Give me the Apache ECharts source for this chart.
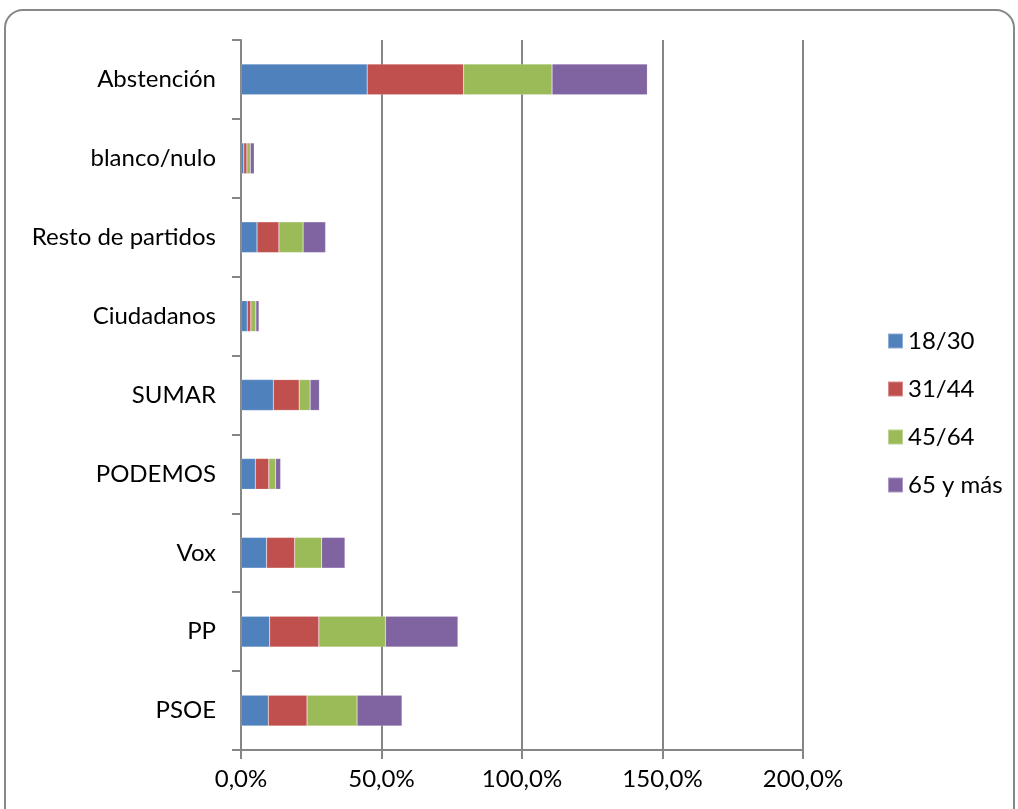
<!DOCTYPE html>
<html>
<head>
<meta charset="utf-8">
<script src="https://cdn.jsdelivr.net/npm/echarts@6/dist/echarts.min.js"></script>
<style>html,body{margin:0;padding:0;background:#fff}#c{width:1018px;height:809px}</style>
</head>
<body>
<div id="c"></div>
<script>
const categories = ['PSOE', 'PP', 'Vox', 'PODEMOS', 'SUMAR', 'Ciudadanos', 'Resto de partidos', 'blanco/nulo', 'Abstención'];
const seriesNames = ['18/30', '31/44', '45/64', '65 y más'];
const s1830 = [9.7, 10.2, 9.1, 5.1, 11.5, 2.2, 5.7, 1.0, 44.9];
const s3144 = [13.8, 17.5, 10.0, 4.8, 9.2, 1.3, 7.8, 1.1, 34.3];
const s4564 = [17.8, 23.7, 9.6, 2.4, 3.9, 1.8, 8.6, 1.2, 31.5];
const s65 = [16.0, 25.8, 8.3, 1.8, 3.3, 1.1, 8.0, 1.4, 33.9];
const xTicks = { min: 0, max: 200, interval: 50 };
const colors = ['#4F81BD', '#C0504D', '#9BBB59', '#8064A2'];

const FONT = 'Lato';
const FS = 24;
const chart = echarts.init(document.getElementById('c'));
const data = [s1830, s3144, s4564, s65];
chart.setOption({
  animation: false,
  color: colors,
  textStyle: { fontFamily: FONT },
  graphic: [{
    type: 'rect', shape: { x: 5, y: 10, width: 1009, height: 820, r: 18 },
    style: { fill: 'none', stroke: '#888', lineWidth: 2 }, z: -10
  }],
  grid: { left: 241, right: 215, top: 40, bottom: 59 },
  legend: {
    orient: 'vertical', left: 882, top: 324, itemGap: 24, itemWidth: 15, itemHeight: 15,
    icon: 'rect', data: seriesNames,
    textStyle: { fontSize: FS, color: '#000', fontFamily: FONT }
  },
  xAxis: {
    type: 'value', min: xTicks.min, max: xTicks.max, interval: xTicks.interval,
    axisLine: { show: true, lineStyle: { color: '#868686', width: 2 } },
    axisTick: { show: true, length: 9, lineStyle: { color: '#868686', width: 2 } },
    splitLine: { show: true, lineStyle: { color: '#868686', width: 2 } },
    axisLabel: { fontSize: FS, color: '#000', margin: 17, fontFamily: FONT,
      formatter: v => v.toFixed(1).replace('.', ',') + '%' }
  },
  yAxis: {
    type: 'category', data: categories,
    axisLine: { show: true, lineStyle: { color: '#868686', width: 2 } },
    axisTick: { show: true, length: 9, lineStyle: { color: '#868686', width: 2 } },
    axisLabel: { fontSize: FS, color: '#000', margin: 25, fontFamily: FONT }
  },
  series: seriesNames.map((n, i) => ({
    name: n, type: 'bar', stack: 'total', data: data[i], barWidth: '39%',
    itemStyle: { color: colors[i], borderColor: 'rgba(255,255,255,0.35)', borderWidth: 0.5 }
  }))
});
</script>
</body>
</html>
